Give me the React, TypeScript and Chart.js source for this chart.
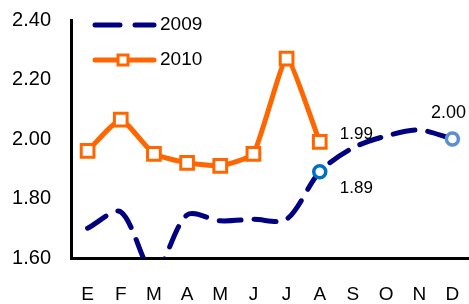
import React, { useEffect, useRef } from "react";
import { Chart, registerables } from "chart.js";

Chart.register(...registerables);

const months = ["E", "F", "M", "A", "M", "J", "J", "A", "S", "O", "N", "D"];
const series2009 = [1.70, 1.755, 1.55, 1.745, 1.725, 1.73, 1.73, 1.89, 1.97, 2.01, 2.03, 2.0];
const series2010 = [1.96, 2.065, 1.95, 1.92, 1.91, 1.95, 2.27, 1.99];
const yTicks = [1.6, 1.8, 2.0, 2.2, 2.4];
const label2009 = "2009";
const label2010 = "2010";

const NAVY = "#000080";
const ORANGE = "#FF6600";
const FONT = "'Liberation Sans', Arial, sans-serif";

const labelsPlugin = {
  id: "valueLabels",
  afterDatasetsDraw(chart: any) {
    const ctx = chart.ctx;
    const m0 = chart.getDatasetMeta(0).data;
    const m1 = chart.getDatasetMeta(1).data;
    ctx.save();
    ctx.fillStyle = "#000";
    ctx.font = `17px ${FONT}`;
    ctx.textBaseline = "middle";
    ctx.textAlign = "left";
    const pA = m0[7];
    ctx.fillText(series2009[7].toFixed(2), pA.x + 20, pA.y + 17);
    const pB = m1[7];
    ctx.fillText(series2010[7].toFixed(2), pB.x + 20, pB.y - 8);
    const pD = m0[11];
    ctx.textAlign = "center";
    ctx.font = `18px ${FONT}`;
    ctx.fillText(series2009[11].toFixed(2), pD.x - 4, pD.y - 26);
    ctx.restore();
  },
};

const legendPlugin = {
  id: "customLegend",
  afterDraw(chart: any) {
    const ctx = chart.ctx;
    ctx.save();
    ctx.strokeStyle = NAVY;
    ctx.lineWidth = 5;
    ctx.lineCap = "round";
    ctx.beginPath();
    ctx.moveTo(95, 25);
    ctx.lineTo(120, 25);
    ctx.moveTo(135, 25);
    ctx.lineTo(154, 25);
    ctx.stroke();
    ctx.strokeStyle = ORANGE;
    ctx.beginPath();
    ctx.moveTo(95, 60);
    ctx.lineTo(154, 60);
    ctx.stroke();
    ctx.fillStyle = "#fff";
    ctx.lineWidth = 3;
    ctx.fillRect(118, 55, 10, 10);
    ctx.strokeRect(118, 55, 10, 10);
    ctx.fillStyle = "#000";
    ctx.font = `19px ${FONT}`;
    ctx.textBaseline = "middle";
    ctx.textAlign = "left";
    ctx.fillText(label2009, 160, 25);
    ctx.fillText(label2010, 160, 60);
    ctx.restore();
  },
};

export default function App() {
  const ref = useRef<HTMLCanvasElement>(null);
  useEffect(() => {
    if (!ref.current) return;
    const r2009 = series2009.map((_, i) => (i === 7 || i === 11 ? 6 : 0));
    const c2009 = series2009.map((_, i) => (i === 11 ? "#5B8FD0" : "#0070C0"));
    const chart = new Chart(ref.current, {
      type: "line",
      data: {
        labels: months,
        datasets: [
          {
            label: label2009,
            data: series2009,
            borderColor: NAVY,
            borderWidth: 5,
            borderDash: [22, 13],
            borderCapStyle: "round",
            tension: 0.3,
            pointRadius: r2009,
            pointBorderColor: c2009,
            pointBackgroundColor: "#fff",
            pointBorderWidth: 3.5,
            clip: 0,
          },
          {
            label: label2010,
            data: series2010,
            borderColor: ORANGE,
            borderWidth: 5,
            tension: 0.15,
            pointStyle: "rect",
            pointRadius: 9,
            pointBorderColor: ORANGE,
            pointBackgroundColor: "#fff",
            pointBorderWidth: 3,
            clip: 10,
          },
        ],
      } as any,
      options: {
        animation: false,
        responsive: false,
        maintainAspectRatio: false,
        layout: { autoPadding: false, padding: { top: 20, right: 0, left: 0, bottom: 0 } },
        plugins: { legend: { display: false }, tooltip: { enabled: false } },
        scales: {
          x: {
            offset: true,
            grid: { display: false, drawTicks: false, offset: true },
            border: { display: true, color: "#000", width: 3 },
            ticks: { color: "#000", font: { family: FONT, size: 19 }, padding: 25 },
            afterFit: (s: any) => {
              s.height = 46;
              s.paddingLeft = 0;
              s.paddingRight = 0;
            },
          },
          y: {
            min: 1.6,
            max: 2.4,
            afterBuildTicks: (s: any) => {
              s.ticks = yTicks.map((v) => ({ value: v }));
            },
            grid: { display: false, drawTicks: false },
            border: { display: true, color: "#000", width: 3 },
            ticks: {
              color: "#000",
              font: { family: FONT, size: 20 },
              padding: 20,
              callback: (v: any) => Number(v).toFixed(2),
            },
            afterFit: (s: any) => {
              s.width = 71;
              s.paddingTop = 0;
              s.paddingBottom = 0;
            },
          },
        },
      },
      plugins: [labelsPlugin, legendPlugin],
    });
    return () => chart.destroy();
  }, []);
  return (
    <div style={{ position: "absolute", left: 0, top: 0, width: 469, height: 304 }}>
      <canvas ref={ref} width={469} height={304} style={{ width: 469, height: 304 }} />
    </div>
  );
}
